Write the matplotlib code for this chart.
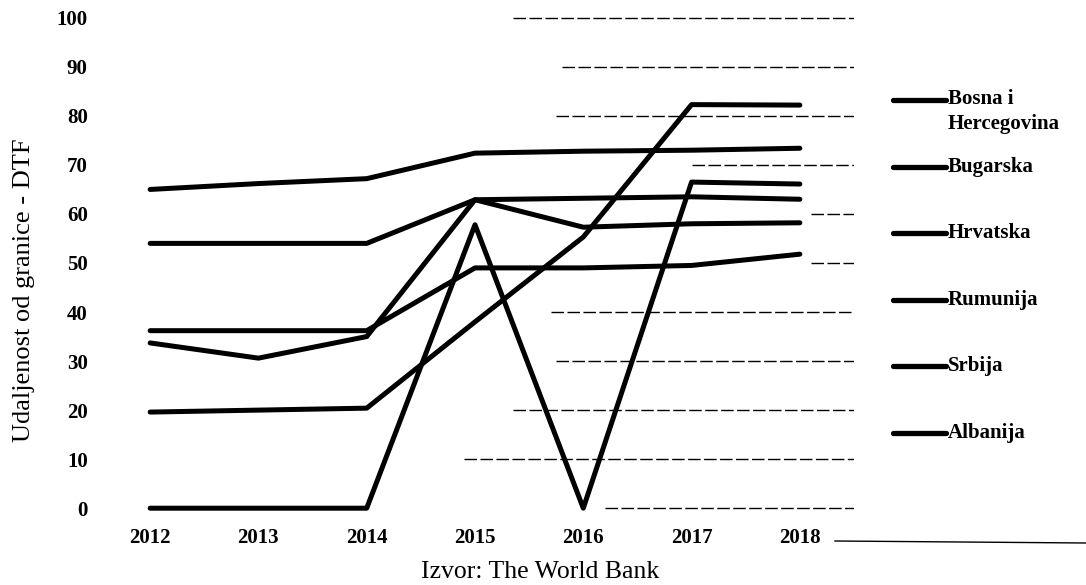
import numpy as np
import matplotlib
matplotlib.use("Agg")
from matplotlib import pyplot as plt
from matplotlib.lines import Line2D

plt.rcParams['font.family'] = ['Liberation Serif', 'DejaVu Serif']

# data
years = [2012, 2013, 2014, 2015, 2016, 2017, 2018]
bosna = [19.6, 20.0, 20.4, 38.0, 55.3, 82.3, 82.2]
bugarska = [65.0, 66.2, 67.2, 72.4, 72.8, 73.0, 73.4]
hrvatska = [54.0, 54.0, 54.0, 62.9, 63.2, 63.5, 63.0]
rumunija = [36.2, 36.2, 36.2, 49.0, 49.0, 49.5, 51.8]
srbija = [33.7, 30.6, 35.0, 62.9, 57.3, 58.0, 58.2]
albanija = [0.0, 0.0, 0.0, 57.8, 0.0, 66.5, 66.1]

names = ["Bosna i\nHercegovina", "Bugarska", "Hrvatska", "Rumunija", "Srbija", "Albanija"]
series = [bosna, bugarska, hrvatska, rumunija, srbija, albanija]
yticks = list(range(0, 101, 10))

W, H = 1086, 585
fig = plt.figure(figsize=(W/100, H/100), dpi=100)
ax = fig.add_axes([96/W, 1-518/H, 758/W, 510/H])

# the scan only kept parts of the grid, mostly on the right
grid_from = [2016.2, 2014.9, 2015.35, 2015.75, 2015.7, 2018.1, 2018.1, 2017.0, 2015.75, 2015.8, 2015.35]
for v, x0 in zip(yticks, grid_from):
    ax.plot([x0, 2018.5], [v, v], color="black", lw=1.0, dashes=(9, 2.5), zorder=1)

for s in series:
    ax.plot(years, s, color="black", lw=3.6, solid_capstyle="round", solid_joinstyle="round", zorder=3)

ax.set_xlim(2011.5, 2018.5)
ax.set_ylim(-2, 102)
ax.set_xticks(years)
ax.set_yticks(yticks)
ax.tick_params(length=0, labelsize=15)
ax.tick_params(axis="x", pad=7)
ax.tick_params(axis="y", pad=6)
for lab in ax.get_xticklabels() + ax.get_yticklabels():
    lab.set_fontweight("bold")
for sp in ax.spines.values():
    sp.set_visible(False)

fig.text(24/W, 1-290/H, "Udaljenost od granice - DTF", rotation=90, ha="center", va="center", fontsize=19)
fig.text(540/W, 1-572/H, "Izvor: The World Bank", ha="center", va="center", fontsize=18.5)

# legend drawn by hand so the first handle sits on the first text line
for i, name in enumerate(names):
    y = 1 - (100 + 66.6*i)/H
    fig.add_artist(Line2D([893/W, 946/W], [y, y], color="black", lw=3.8, solid_capstyle="round"))
    if "\n" in name:
        fig.text(948/W, y + 11/H, name, ha="left", va="top", fontsize=15, fontweight="bold", linespacing=1.3)
    else:
        fig.text(948/W, y, name, ha="left", va="center", fontsize=15, fontweight="bold")

# stray scan line to the right of the last year label
fig.add_artist(Line2D([835/W, 1086/W], [1-541/H, 1-543/H], color="black", lw=1.0))

fig.savefig("out.png", dpi=100)
